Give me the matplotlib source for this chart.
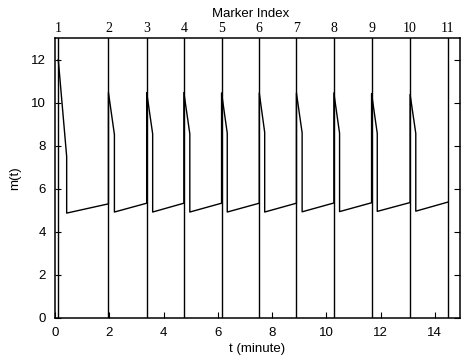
import matplotlib
matplotlib.use("Agg")
import matplotlib.pyplot as plt
import numpy as np

# Marker times (minutes) and labels
marker_t = [0.12, 1.97, 3.38, 4.75, 6.14, 7.53, 8.90, 10.28, 11.67, 13.09, 14.48]
marker_labels = ["1", "2", "3", "4", "5", "6", "7", "8", "9", "10", "11"]

# Per-cycle shape of m(t): peak at marker, decline end, drop bottom, value at next marker
peak_vals = [12.0, 10.47, 10.47, 10.47, 10.45, 10.45, 10.45, 10.45, 10.42, 10.38]
decl_end_t = [0.43, 2.19, 3.60, 4.97, 6.35, 7.73, 9.11, 10.49, 11.88, 13.30]
decl_end_vals = [7.5, 8.52, 8.55, 8.55, 8.58, 8.62, 8.60, 8.58, 8.57, 8.57]
bottom_vals = [4.87, 4.92, 4.92, 4.92, 4.92, 4.92, 4.93, 4.94, 4.95, 4.96]
end_vals = [5.30, 5.33, 5.33, 5.33, 5.33, 5.33, 5.34, 5.35, 5.36, 5.38]

plt.rcParams['font.family'] = ['Liberation Sans', 'DejaVu Sans']

fig = plt.figure(figsize=(4.63, 3.62), dpi=100)
ax = fig.add_axes([55/463, 1-318/362, 405/463, 280/362])

# build curve
t = []
m = []
for i in range(len(peak_vals)):
    t0 = marker_t[i]
    t1 = marker_t[i+1]
    if i > 0:
        t.append(t0); m.append(end_vals[i-1])
    t += [t0, decl_end_t[i], decl_end_t[i], t1]
    m += [peak_vals[i], decl_end_vals[i], bottom_vals[i], end_vals[i]]
ax.plot(t, m, color='black', lw=1.0)

for mt in marker_t:
    ax.axvline(mt, color='black', lw=1.0)

ax.set_xlim(0, 14.93)
ax.set_ylim(0, 13)
ax.set_xticks(np.arange(0, 15, 2))
ax.set_yticks(np.arange(0, 13, 2))
ax.tick_params(direction='in', length=4.5, width=0.8, top=True, right=True,
               labelsize=9.5, pad=6.5, colors='black')
for s in ax.spines.values():
    s.set_linewidth(1.1)
ax.set_xlabel('t (minute)', fontsize=9.5, labelpad=3)
ax.set_ylabel('m(t)', fontsize=9.5, labelpad=7)

ax2 = ax.twiny()
ax2.set_xlim(ax.get_xlim())
ax2.set_xticks(marker_t)
ax2.set_xticklabels(marker_labels, family=['Liberation Serif'], fontsize=10)
ax2.tick_params(length=0, pad=2)
for s in ax2.spines.values():
    s.set_visible(False)
fig.text(251/463, 1-14/362, 'Marker Index', ha='center', va='center', fontsize=9.5)

fig.savefig('out.png', dpi=100)
